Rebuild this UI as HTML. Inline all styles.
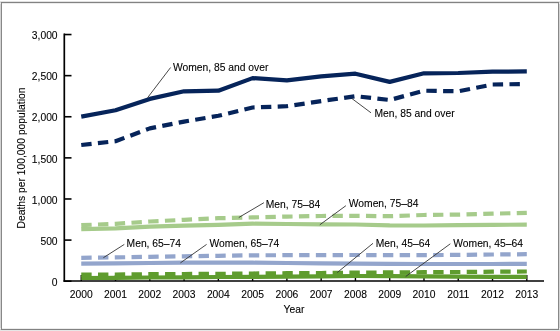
<!DOCTYPE html>
<html><head><meta charset="utf-8"><style>
html,body{margin:0;padding:0;background:#fff;}
body{width:560px;height:331px;overflow:hidden;position:relative;}
svg{position:absolute;left:0;top:0;will-change:transform;}
text{font-family:"Liberation Sans",sans-serif;font-size:10.3px;fill:#000;stroke:#000;stroke-width:0.1px;}
</style></head><body>
<svg width="560" height="331" viewBox="0 0 560 331">
<g shape-rendering="crispEdges">
<rect x="0" y="2" width="1" height="328" fill="#d3d3d3"/>
<rect x="559" y="2" width="1" height="328" fill="#d3d3d3"/>
<rect x="0" y="1" width="560" height="1" fill="#e2e2e2"/>
<rect x="0" y="3" width="560" height="1" fill="#ececec"/>
<rect x="0" y="328" width="560" height="1" fill="#ececec"/>
<rect x="0" y="330" width="560" height="1" fill="#e6e6e6"/>
<rect x="1" y="2" width="1" height="328" fill="#888"/>
<rect x="558" y="2" width="1" height="328" fill="#888"/>
<rect x="1" y="2" width="558" height="1" fill="#828282"/>
<rect x="1" y="329" width="558" height="1" fill="#828282"/>
</g>
<line x1="64" y1="281.20" x2="71.5" y2="281.20" stroke="#000" stroke-width="1.6"/>
<text x="57.6" y="285.90" text-anchor="end">0</text>
<line x1="64" y1="240.09" x2="71.5" y2="240.09" stroke="#000" stroke-width="1.6"/>
<text x="57.6" y="244.79" text-anchor="end">500</text>
<line x1="64" y1="198.98" x2="71.5" y2="198.98" stroke="#000" stroke-width="1.6"/>
<text x="57.6" y="203.68" text-anchor="end">1,000</text>
<line x1="64" y1="157.87" x2="71.5" y2="157.87" stroke="#000" stroke-width="1.6"/>
<text x="57.6" y="162.57" text-anchor="end">1,500</text>
<line x1="64" y1="116.76" x2="71.5" y2="116.76" stroke="#000" stroke-width="1.6"/>
<text x="57.6" y="121.46" text-anchor="end">2,000</text>
<line x1="64" y1="75.65" x2="71.5" y2="75.65" stroke="#000" stroke-width="1.6"/>
<text x="57.6" y="80.35" text-anchor="end">2,500</text>
<line x1="64" y1="34.54" x2="71.5" y2="34.54" stroke="#000" stroke-width="1.6"/>
<text x="57.6" y="39.24" text-anchor="end">3,000</text>
<line x1="81.25" y1="281" x2="81.25" y2="275" stroke="#000" stroke-width="1.4"/>
<text x="81.25" y="298.2" text-anchor="middle">2000</text>
<line x1="115.52" y1="281" x2="115.52" y2="275" stroke="#000" stroke-width="1.4"/>
<text x="115.52" y="298.2" text-anchor="middle">2001</text>
<line x1="149.80" y1="281" x2="149.80" y2="275" stroke="#000" stroke-width="1.4"/>
<text x="149.80" y="298.2" text-anchor="middle">2002</text>
<line x1="184.07" y1="281" x2="184.07" y2="275" stroke="#000" stroke-width="1.4"/>
<text x="184.07" y="298.2" text-anchor="middle">2003</text>
<line x1="218.34" y1="281" x2="218.34" y2="275" stroke="#000" stroke-width="1.4"/>
<text x="218.34" y="298.2" text-anchor="middle">2004</text>
<line x1="252.62" y1="281" x2="252.62" y2="275" stroke="#000" stroke-width="1.4"/>
<text x="252.62" y="298.2" text-anchor="middle">2005</text>
<line x1="286.89" y1="281" x2="286.89" y2="275" stroke="#000" stroke-width="1.4"/>
<text x="286.89" y="298.2" text-anchor="middle">2006</text>
<line x1="321.16" y1="281" x2="321.16" y2="275" stroke="#000" stroke-width="1.4"/>
<text x="321.16" y="298.2" text-anchor="middle">2007</text>
<line x1="355.43" y1="281" x2="355.43" y2="275" stroke="#000" stroke-width="1.4"/>
<text x="355.43" y="298.2" text-anchor="middle">2008</text>
<line x1="389.71" y1="281" x2="389.71" y2="275" stroke="#000" stroke-width="1.4"/>
<text x="389.71" y="298.2" text-anchor="middle">2009</text>
<line x1="423.98" y1="281" x2="423.98" y2="275" stroke="#000" stroke-width="1.4"/>
<text x="423.98" y="298.2" text-anchor="middle">2010</text>
<line x1="458.25" y1="281" x2="458.25" y2="275" stroke="#000" stroke-width="1.4"/>
<text x="458.25" y="298.2" text-anchor="middle">2011</text>
<line x1="492.53" y1="281" x2="492.53" y2="275" stroke="#000" stroke-width="1.4"/>
<text x="492.53" y="298.2" text-anchor="middle">2012</text>
<line x1="526.80" y1="281" x2="526.80" y2="275" stroke="#000" stroke-width="1.4"/>
<text x="526.80" y="298.2" text-anchor="middle">2013</text>
<polyline points="81.25,278.00 115.52,277.80 149.80,277.50 184.07,277.30 218.34,277.00 252.62,276.80 286.89,276.60 321.16,276.40 355.43,276.00 389.71,276.20 423.98,276.40 458.25,276.60 492.53,276.80 526.80,276.90" fill="none" stroke="#5f9c2e" stroke-width="4.2" stroke-linejoin="round"/>
<polyline points="81.25,274.70 115.52,274.50 149.80,274.20 184.07,274.00 218.34,273.80 252.62,273.50 286.89,273.20 321.16,273.00 355.43,272.60 389.71,272.40 423.98,272.20 458.25,272.00 492.53,271.70 526.80,271.50" fill="none" stroke="#5f9c2e" stroke-width="4.2" stroke-linejoin="round" stroke-dasharray="10.4 6.36"/>
<polyline points="81.25,263.60 115.52,263.40 149.80,263.00 184.07,262.70 218.34,262.60 252.62,262.70 286.89,263.00 321.16,263.40 355.43,263.70 389.71,263.90 423.98,264.00 458.25,264.00 492.53,264.00 526.80,263.90" fill="none" stroke="#93a5cc" stroke-width="4.2" stroke-linejoin="round"/>
<polyline points="81.25,257.80 115.52,257.40 149.80,256.80 184.07,256.30 218.34,255.80 252.62,255.30 286.89,255.20 321.16,255.10 355.43,255.00 389.71,255.10 423.98,255.10 458.25,254.90 492.53,254.50 526.80,254.20" fill="none" stroke="#93a5cc" stroke-width="4.2" stroke-linejoin="round" stroke-dasharray="10.4 6.36"/>
<polyline points="81.25,229.20 115.52,228.30 149.80,226.60 184.07,225.60 218.34,224.90 252.62,223.70 286.89,224.00 321.16,224.30 355.43,224.50 389.71,225.40 423.98,225.50 458.25,225.20 492.53,224.80 526.80,224.70" fill="none" stroke="#a6cb8b" stroke-width="4.2" stroke-linejoin="round"/>
<polyline points="81.25,225.20 115.52,223.80 149.80,221.50 184.07,219.80 218.34,218.20 252.62,217.40 286.89,216.60 321.16,216.00 355.43,215.80 389.71,216.20 423.98,215.00 458.25,214.60 492.53,213.70 526.80,212.80" fill="none" stroke="#a6cb8b" stroke-width="4.2" stroke-linejoin="round" stroke-dasharray="10.4 6.36"/>
<polyline points="81.25,145.00 115.52,141.20 149.80,128.40 184.07,121.60 218.34,115.80 252.62,107.50 286.89,106.20 321.16,101.10 355.43,96.20 389.71,100.00 423.98,90.70 458.25,91.30 492.53,84.50 520.5,84.1" fill="none" stroke="#06245a" stroke-width="4.2" stroke-linejoin="round" stroke-dasharray="10.4 6.36"/>
<polyline points="81.25,116.60 115.52,110.20 149.80,98.90 184.07,91.30 218.34,90.70 252.62,78.10 286.89,80.40 321.16,76.40 355.43,73.70 389.71,81.90 423.98,73.30 458.25,73.00 492.53,71.70 526.80,71.40" fill="none" stroke="#06245a" stroke-width="4.2" stroke-linejoin="round"/>
<line x1="64.3" y1="33.5" x2="64.3" y2="281.8" stroke="#000" stroke-width="1.7"/>
<line x1="63.5" y1="281.1" x2="544" y2="281.1" stroke="#000" stroke-width="1.5"/>
<line x1="170.6" y1="67.5" x2="147.5" y2="97.8" stroke="#333" stroke-width="0.9"/>
<text x="173" y="71.0">Women, 85 and over</text>
<line x1="371" y1="112.8" x2="352" y2="98.6" stroke="#333" stroke-width="0.9"/>
<text x="374.5" y="117.19999999999999">Men, 85 and over</text>
<line x1="263.9" y1="202.7" x2="238.8" y2="217.5" stroke="#333" stroke-width="0.9"/>
<text x="265.8" y="207.6">Men, 75–84</text>
<line x1="345.9" y1="205.7" x2="319.8" y2="224.8" stroke="#333" stroke-width="0.9"/>
<text x="348.8" y="207.4">Women, 75–84</text>
<line x1="124.3" y1="244.4" x2="103.4" y2="257.7" stroke="#333" stroke-width="0.9"/>
<text x="126.6" y="247.2">Men, 65–74</text>
<line x1="206.6" y1="244.4" x2="180.4" y2="262.9" stroke="#333" stroke-width="0.9"/>
<text x="209.5" y="247.1">Women, 65–74</text>
<line x1="373" y1="243.3" x2="337.3" y2="272.5" stroke="#333" stroke-width="0.9"/>
<text x="375.8" y="246.6">Men, 45–64</text>
<line x1="450.3" y1="243.8" x2="405.7" y2="276.5" stroke="#333" stroke-width="0.9"/>
<text x="453.3" y="246.6">Women, 45–64</text>
<text x="294" y="313.4" text-anchor="middle">Year</text>
<text transform="translate(25,158) rotate(-90)" text-anchor="middle">Deaths per 100,000 population</text>
</svg>
</body></html>
